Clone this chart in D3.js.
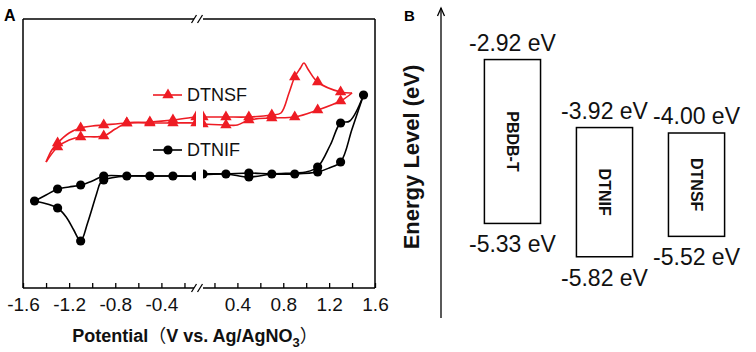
<!DOCTYPE html>
<html>
<head>
<meta charset="utf-8">
<script src="https://cdn.jsdelivr.net/npm/d3@7"></script>
<style>
  body { margin: 0; background: #fff; }
  svg { display: block; font-family: Arial, "Liberation Sans", sans-serif; }
</style>
</head>
<body>
<svg id="chart" width="756" height="352"></svg>
<script>
// ---- Panel A: cyclic voltammograms, [potential (V), current (a.u.)]
const dtnsfForward = [[-1.4,12.6],[-1.35,13.8],[-1.3,14.5],[-1.2,15.5],[-1.1,16.0],[-1.0,16.2],[-0.9,16.3],[-0.7,16.5],[-0.5,16.6],[-0.3,16.8],[-0.1,17.1],[0.1,17.1],[0.3,17.1],[0.5,17.1],[0.7,17.3],[0.78,17.5],[0.85,19.5],[0.9,21.1],[0.95,22.0],[0.98,22.5],[1.02,21.8],[1.1,20.6],[1.3,19.6],[1.4,19.5]];
const dtnsfReverse = [[1.4,19.5],[1.3,18.7],[1.1,17.8],[0.9,17.1],[0.7,17.0],[0.5,16.8],[0.4,16.3],[0.3,16.3],[0.1,16.4],[-0.1,16.5],[-0.3,16.5],[-0.5,16.5],[-0.7,16.5],[-0.8,15.9],[-0.9,15.2],[-1.1,15.1],[-1.2,14.8],[-1.3,14.1],[-1.4,12.6]];
const dtnsfMarkers = [[-1.3,14.5],[-1.1,16.0],[-0.9,16.3],[-0.7,16.5],[-0.5,16.6],[-0.3,16.8],[-0.1,17.1],[0.1,17.1],[0.3,17.1],[0.5,17.1],[0.7,17.3],[0.9,21.1],[1.1,20.6],[1.3,19.6],
  [1.3,18.7],[1.1,17.8],[0.9,17.1],[0.7,17.0],[0.5,16.8],[0.3,16.3],[0.1,16.4],[-0.1,16.5],[-0.3,16.5],[-0.5,16.5],[-0.7,16.5],[-0.9,15.2],[-1.1,15.1],[-1.3,14.1]];

const dtnifForward = [[-1.5,8.7],[-1.4,9.3],[-1.3,9.9],[-1.2,10.1],[-1.1,10.3],[-1.0,10.7],[-0.9,11.2],[-0.7,11.2],[-0.5,11.2],[-0.3,11.2],[-0.1,11.2],[0.1,11.4],[0.3,11.4],[0.5,11.5],[0.7,11.4],[0.9,11.4],[1.1,11.6],[1.2,12.0],[1.3,12.6],[1.4,15.9],[1.5,19.3]];
const dtnifReverse = [[1.5,19.3],[1.38,16.7],[1.3,16.5],[1.21,14.3],[1.1,12.1],[1.0,11.6],[0.9,11.5],[0.7,11.4],[0.5,11.1],[0.3,11.4],[0.1,11.3],[-0.1,11.2],[-0.3,11.2],[-0.5,11.2],[-0.7,11.2],[-0.9,10.8],[-0.93,10.5],[-0.96,9.5],[-1.04,6.5],[-1.1,4.7],[-1.16,5.8],[-1.22,7.0],[-1.3,8.0],[-1.5,8.7]];
const dtnifMarkers = [[-1.5,8.7],[-1.3,9.9],[-1.1,10.3],[-0.9,11.2],[-0.7,11.2],[-0.5,11.2],[-0.3,11.2],[-0.1,11.2],[0.1,11.4],[0.3,11.4],[0.5,11.5],[0.7,11.4],[0.9,11.4],[1.1,11.6],[1.3,12.6],[1.5,19.3],
  [1.3,16.5],[1.1,12.1],[0.5,11.1],[-0.9,10.8],[-1.1,4.7],[-1.3,8.0]];

const potentialTicks = [-1.6,-1.4,-1.2,-1.0,-0.8,-0.6,-0.4,-0.2,0.2,0.4,0.6,0.8,1.0,1.2,1.4,1.6];
const potentialLabels = [-1.6,-1.2,-0.8,-0.4,0.4,0.8,1.2,1.6];

// ---- Panel B: energy levels (eV)
const materials = ["PBDB-T", "DTNIF", "DTNSF"];
const lumo = [-2.92, -3.92, -4.00];
const homo = [-5.33, -5.82, -5.52];

const svg = d3.select("#chart");
const red = "#ee1c24";

// broken x axis: the gap around 0 V is cut out
const frame = { left: 23, right: 375, top: 19, bottom: 288 };
const x = d3.scaleLinear()
  .domain([-1.6, -0.1, 0.1, 1.6])
  .range([frame.left, 196, 203, frame.right]);
const y = d3.scaleLinear().domain([0, 26.9]).range([frame.bottom, frame.top]);

const defs = svg.append("defs");
defs.append("clipPath").attr("id", "clipL").append("rect")
  .attr("x", frame.left).attr("y", 0).attr("width", x(-0.1) - frame.left).attr("height", 352);
defs.append("clipPath").attr("id", "clipR").append("rect")
  .attr("x", x(0.1)).attr("y", 0).attr("width", frame.right - x(0.1)).attr("height", 352);

const line = d3.line()
  .x(d => x(d[0]))
  .y(d => y(d[1]))
  .curve(d3.curveCatmullRom.alpha(0.5));

const tri = d3.symbol(d3.symbolTriangle).size(56);

["clipL", "clipR"].forEach(id => {
  const g = svg.append("g").attr("clip-path", `url(#${id})`);

  [dtnsfForward, dtnsfReverse].forEach(s => {
    g.append("path").datum(s)
      .attr("fill", "none").attr("stroke", red).attr("stroke-width", 1.6)
      .attr("d", line);
  });
  [dtnifForward, dtnifReverse].forEach(s => {
    g.append("path").datum(s)
      .attr("fill", "none").attr("stroke", "#000").attr("stroke-width", 1.6)
      .attr("d", line);
  });

  g.selectAll(".tri").data(dtnsfMarkers).join("path")
    .attr("d", tri)
    .attr("transform", d => `translate(${x(d[0])},${y(d[1])})`)
    .attr("fill", red);

  g.selectAll(".dot").data(dtnifMarkers).join("circle")
    .attr("cx", d => x(d[0]))
    .attr("cy", d => y(d[1]))
    .attr("r", 4.6)
    .attr("fill", "#000");
});

// bottom axis, ticks pointing inward
const labelSet = new Set(potentialLabels);
const xAxis = svg.append("g")
  .attr("transform", `translate(0,${frame.bottom})`)
  .call(d3.axisBottom(x)
    .tickValues(potentialTicks)
    .tickSizeInner(-5)
    .tickSizeOuter(0)
    .tickPadding(10)
    .tickFormat(d => labelSet.has(d) ? d.toFixed(1) : ""));
xAxis.select(".domain").remove();
xAxis.selectAll(".tick line").attr("stroke-width", 1.3);
xAxis.selectAll(".tick text")
  .attr("font-size", 19).attr("font-family", "Arial, 'Liberation Sans', sans-serif").attr("fill", "#111");

// frame with break marks
const fr = svg.append("g").attr("stroke", "#000").attr("stroke-width", 1.5).attr("fill", "none");
fr.append("line").attr("x1", frame.left).attr("x2", frame.left).attr("y1", frame.top).attr("y2", frame.bottom);
fr.append("line").attr("x1", frame.right).attr("x2", frame.right).attr("y1", frame.top).attr("y2", frame.bottom);
[frame.top, frame.bottom].forEach(yy => {
  fr.append("line").attr("x1", frame.left).attr("x2", 194).attr("y1", yy).attr("y2", yy);
  fr.append("line").attr("x1", 203).attr("x2", frame.right).attr("y1", yy).attr("y2", yy);
  [194, 200].forEach(bx => {
    fr.append("line").attr("x1", bx - 2.5).attr("x2", bx + 2.5).attr("y1", yy + 4).attr("y2", yy - 4)
      .attr("stroke-width", 1.3);
  });
});

// x title
const xt = svg.append("text")
  .attr("x", 195).attr("y", 342)
  .attr("text-anchor", "middle")
  .attr("font-size", 18).attr("font-weight", "bold").attr("fill", "#111");
xt.append("tspan").text("Potential");
xt.append("tspan").attr("font-family", "'Noto Sans CJK SC', sans-serif").attr("font-weight", "normal").text("（");
xt.append("tspan").text("V vs. Ag/AgNO");
xt.append("tspan").attr("font-size", 13).attr("dy", 5).text("3");
xt.append("tspan").attr("dy", -5).attr("font-family", "'Noto Sans CJK SC', sans-serif").attr("font-weight", "normal").text("）");

// legend
const legend = [
  { name: "DTNSF", color: red, marker: "tri", y: 95 },
  { name: "DTNIF", color: "#000", marker: "dot", y: 150 }
];
legend.forEach(l => {
  const g = svg.append("g").attr("transform", `translate(153,${l.y})`);
  g.append("line").attr("x1", 0).attr("x2", 29).attr("stroke", l.color).attr("stroke-width", 1.6);
  if (l.marker === "tri") g.append("path").attr("d", tri).attr("transform", "translate(15,0)").attr("fill", l.color);
  else g.append("circle").attr("cx", 15).attr("r", 4.6).attr("fill", l.color);
  g.append("text").attr("x", 34).attr("y", 0).attr("dy", "0.35em")
    .attr("font-size", 18).attr("fill", "#111").text(l.name);
});

// panel letters
svg.append("text").attr("x", 4).attr("y", 21).attr("font-size", 16).attr("font-weight", "bold").text("A");
svg.append("text").attr("x", 404).attr("y", 21).attr("font-size", 15).attr("font-weight", "bold").text("B");

// ---- Panel B
const yE = d3.scaleLinear().domain([-2, -6]).range([-3, 269]);
const xB = d3.scaleBand().domain(materials).range([466, 743]).paddingInner(0.39).paddingOuter(0.2);

// energy arrow
const ax = 441;
svg.append("line").attr("x1", ax).attr("x2", ax).attr("y1", 318).attr("y2", 8)
  .attr("stroke", "#000").attr("stroke-width", 1.3);
svg.append("path").attr("d", `M${ax - 3.5},${16} L${ax},${8} L${ax + 3.5},${16}`)
  .attr("fill", "none").attr("stroke", "#000").attr("stroke-width", 1.3);

svg.append("text")
  .attr("transform", "translate(419,157) rotate(-90)")
  .attr("text-anchor", "middle")
  .attr("font-size", 22).attr("font-weight", "bold").attr("fill", "#111")
  .text("Energy Level (eV)");

const levels = materials.map((m, i) => ({ name: m, lumo: lumo[i], homo: homo[i] }));
const boxes = svg.append("g").selectAll("g").data(levels).join("g");

boxes.append("rect")
  .attr("x", d => xB(d.name))
  .attr("y", d => yE(d.lumo))
  .attr("width", xB.bandwidth())
  .attr("height", d => yE(d.homo) - yE(d.lumo))
  .attr("fill", "#fff").attr("stroke", "#000").attr("stroke-width", 1.5);

boxes.append("text")
  .attr("transform", d => `translate(${xB(d.name) + xB.bandwidth() / 2},${(yE(d.lumo) + yE(d.homo)) / 2}) rotate(90)`)
  .attr("text-anchor", "middle").attr("dy", "0.35em")
  .attr("font-size", 16).attr("font-weight", "bold").attr("fill", "#111")
  .text(d => d.name);

boxes.append("text")
  .attr("x", d => xB(d.name) + xB.bandwidth() / 2)
  .attr("y", d => yE(d.lumo) - 9)
  .attr("text-anchor", "middle").attr("font-size", 23).attr("fill", "#111")
  .text(d => d.lumo.toFixed(2) + " eV");

boxes.append("text")
  .attr("x", d => xB(d.name) + xB.bandwidth() / 2)
  .attr("y", d => yE(d.homo) + 29)
  .attr("text-anchor", "middle").attr("font-size", 23).attr("fill", "#111")
  .text(d => d.homo.toFixed(2) + " eV");
</script>
</body>
</html>
